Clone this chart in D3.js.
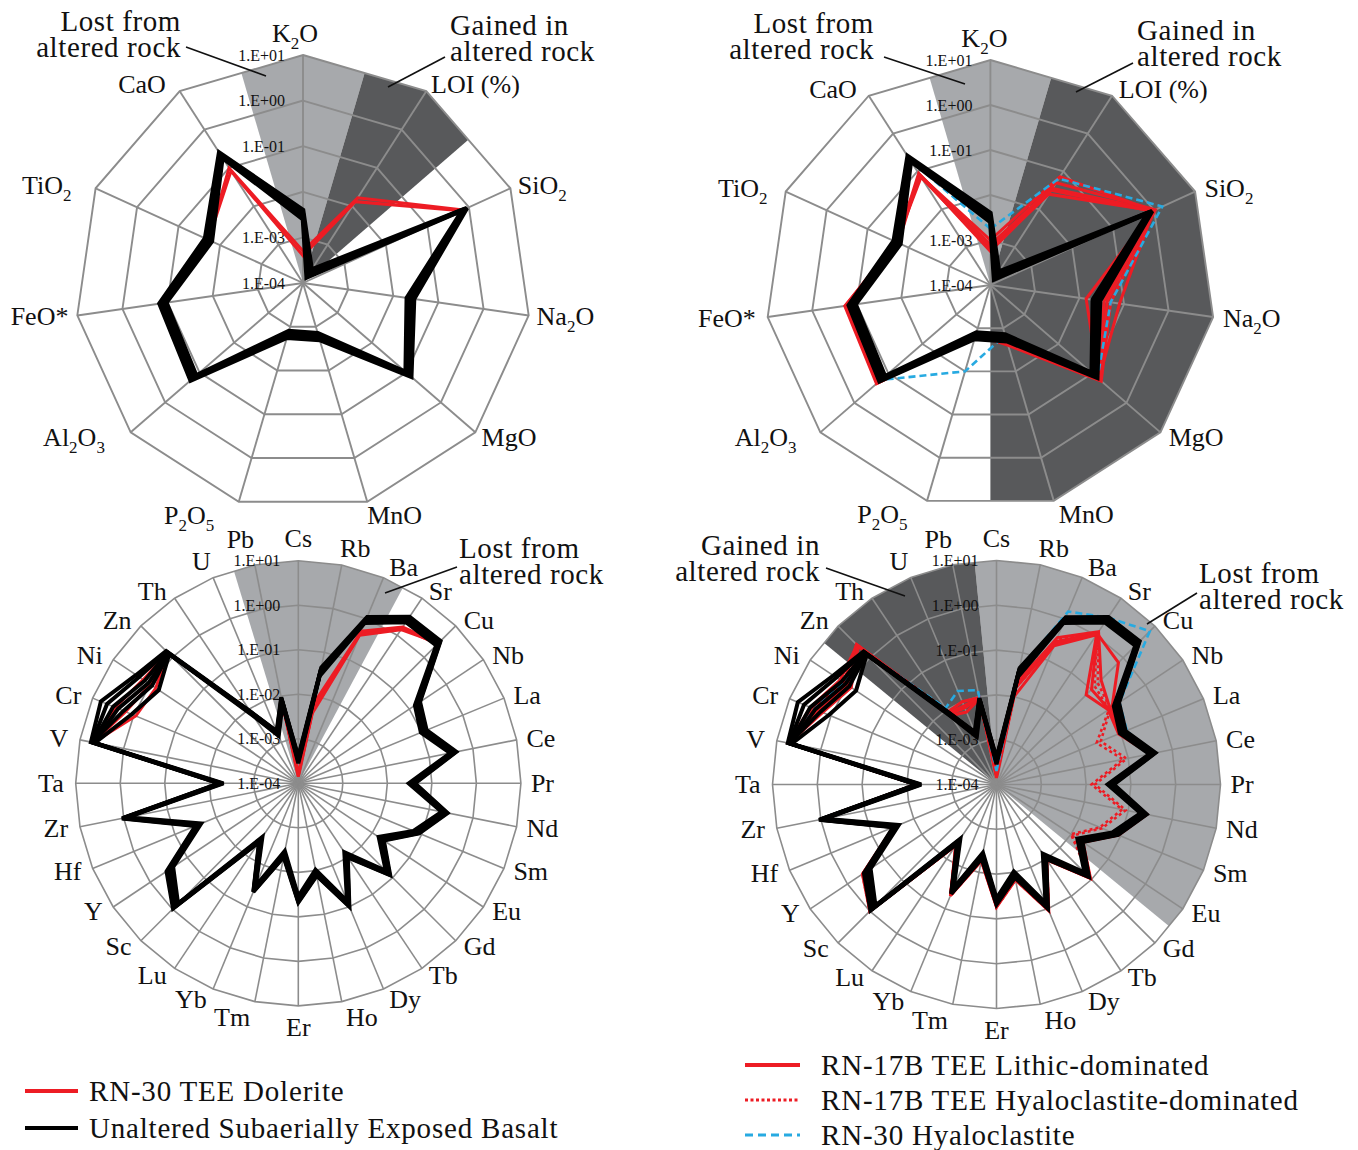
<!DOCTYPE html>
<html>
<head>
<meta charset="utf-8">
<script src="https://d3js.org/d3.v7.min.js"></script>
<style>
  body { margin: 0; background: #fff; }
  svg { display: block; }
  text { font-family: "Liberation Serif", "Times New Roman", serif; fill: #111; }
</style>
</head>
<body>
<div id="chart"></div>
<script>
const width = 1358, height = 1150;

const RED = "#ed1c24", BLUE = "#27aae1", BLACK = "#000",
      GRID = "#8c8c8c", LIGHT = "#a7a9ac", DARK = "#58595b";

// ---- axes / ticks ----
const majorAxes = ["K2O", "LOI (%)", "SiO2", "Na2O", "MgO", "MnO", "P2O5", "Al2O3", "FeO*", "TiO2", "CaO"];
const traceAxes = ["Cs", "Rb", "Ba", "Sr", "Cu", "Nb", "La", "Ce", "Pr", "Nd", "Sm", "Eu", "Gd", "Tb", "Dy",
  "Ho", "Er", "Tm", "Yb", "Lu", "Sc", "Y", "Hf", "Zr", "Ta", "V", "Cr", "Ni", "Zn", "Th", "U", "Pb"];
const tickValues = [1e-4, 1e-3, 1e-2, 1e-1, 1, 10];
const tickLabels = ["1.E-04", "1.E-03", "1.E-02", "1.E-01", "1.E+00", "1.E+01"];

// ---- major elements (order = majorAxes) ----
const basaltMajor1 = [2.51e-3, 1.41e-4, 0.708, 2.0e-2, 9.55e-2, 1.41e-3, 1.26e-3, 0.126, 0.107, 1.58e-2, 0.186];
const basaltMajor2 = [3.16e-3, 1.78e-4, 0.794, 2.4e-2, 0.115, 1.66e-3, 1.48e-3, 0.151, 0.126, 1.91e-2, 0.214];
const basaltMajor3 = [3.98e-3, 2.24e-4, 0.891, 2.88e-2, 0.138, 2.0e-3, 1.78e-3, 0.182, 0.151, 2.29e-2, 0.251];

const doleriteMajor1 = [3.98e-4, 1.32e-2, 0.661, 2.4e-2, 0.115, 1.66e-3, 1.48e-3, 0.151, 0.126, 1.91e-2, 8.32e-2];
const doleriteMajor2 = [5.01e-4, 1.66e-2, 0.724, 2.4e-2, 0.115, 1.66e-3, 1.48e-3, 0.151, 0.126, 1.91e-2, 0.1];

const lithicMajor1 = [6.31e-4, 2.51e-2, 0.933, 1.41e-2, 0.151, 2.0e-3, 1.41e-3, 0.2, 0.166, 2.0e-2, 7.08e-2];
const lithicMajor2 = [7.94e-4, 3.55e-2, 1.0, 3.55e-2, 0.166, 2.24e-3, 1.58e-3, 0.214, 0.178, 2.09e-2, 7.94e-2];
const lithicMajor3 = [7.08e-4, 5.01e-2, 1.07, 5.01e-2, 0.182, 2.51e-3, 1.41e-3, 0.224, 0.186, 1.91e-2, 8.91e-2];
const lithicMajor4 = [1.0e-3, 7.24e-2, 0.955, 7.94e-2, 0.155, 2.0e-3, 1.58e-3, 0.191, 0.158, 2.0e-2, 7.59e-2];
const lithicMajor5 = [5.62e-4, 3.16e-2, 0.891, 4.17e-2, 0.174, 2.4e-3, 1.26e-3, 0.204, 0.174, 1.78e-2, 8.32e-2];

const hyaloMajor = [1.78e-3, 6.46e-2, 1.58, 5.01e-2, 0.141, 1.45e-3, 1.0e-2, 0.166, 0.126, 1.91e-2, 0.2];

// ---- trace elements (order = traceAxes) ----
const basaltTrace1 = [2.82e-4, 2.82e-2, 0.794, 2.24, 2.4, 0.141, 9.55e-2, 0.302, 3.02e-2, 0.191, 6.31e-2, 1.48e-2, 6.03e-2, 7.24e-3, 7.24e-2, 9.55e-3,
  3.47e-2, 3.55e-3, 3.16e-2, 2.82e-3, 0.661, 0.24, 2.29e-2, 0.832, 4.79e-3, 4.57, 1.12, 0.589, 1.26, 6.61e-3, 1.41e-3, 6.61e-3];
const basaltTrace2 = [3.31e-4, 3.55e-2, 0.933, 2.63, 2.82, 0.166, 0.112, 0.355, 3.55e-2, 0.224, 7.41e-2, 1.74e-2, 7.08e-2, 8.51e-3, 8.51e-2, 1.12e-2,
  4.07e-2, 4.17e-3, 3.72e-2, 3.31e-3, 0.794, 0.302, 2.69e-2, 0.955, 5.37e-3, 5.01, 3.16, 1.41, 1.41, 7.59e-3, 1.62e-3, 7.94e-3];
const basaltTrace3 = [3.98e-4, 4.47e-2, 1.1, 3.16, 3.31, 0.195, 0.132, 0.417, 4.17e-2, 0.263, 8.71e-2, 2.04e-2, 8.32e-2, 1.0e-2, 0.1, 1.32e-2,
  4.79e-2, 4.9e-3, 4.37e-2, 3.89e-3, 0.955, 0.363, 3.16e-2, 1.1, 6.03e-3, 5.62, 6.31, 2.4, 1.58, 8.71e-3, 1.86e-3, 9.33e-3];
const basaltTrace4 = [3.55e-4, 3.98e-2, 0.977, 2.88, 3.02, 0.178, 0.12, 0.38, 3.8e-2, 0.24, 7.94e-2, 1.86e-2, 7.59e-2, 9.12e-3, 9.12e-2, 1.2e-2,
  4.37e-2, 4.47e-3, 4.07e-2, 3.55e-3, 0.724, 0.263, 2.88e-2, 1.0, 5.75e-3, 5.25, 1.78, 0.891, 1.32, 8.13e-3, 1.74e-3, 8.51e-3];
const basaltTrace5 = [3.16e-4, 3.31e-2, 0.891, 2.51, 2.69, 0.158, 0.105, 0.331, 3.31e-2, 0.209, 6.92e-2, 1.62e-2, 6.61e-2, 7.94e-3, 7.94e-2, 1.05e-2,
  3.8e-2, 3.89e-3, 3.47e-2, 3.09e-3, 0.741, 0.282, 2.51e-2, 0.912, 5.13e-3, 5.25, 4.47, 2.0, 1.51, 7.24e-3, 1.51e-3, 7.41e-3];
const basaltTrace6 = [3.72e-4, 4.17e-2, 1.02, 2.95, 3.16, 0.186, 0.126, 0.398, 3.98e-2, 0.251, 8.32e-2, 1.95e-2, 7.94e-2, 9.55e-3, 9.55e-2, 1.26e-2,
  4.57e-2, 4.68e-3, 4.27e-2, 3.72e-3, 0.871, 0.331, 3.02e-2, 1.05, 5.89e-3, 4.79, 2.4, 1.12, 1.32, 8.32e-3, 1.78e-3, 8.91e-3];

const doleriteTrace1 = [1.41e-4, 3.98e-3, 0.398, 1.41, 2.82, 0.166, 0.112, 0.355, 3.55e-2, 0.224, 7.41e-2, 1.74e-2, 7.08e-2, 8.51e-3, 8.51e-2, 1.12e-2,
  4.07e-2, 4.17e-3, 3.72e-2, 3.31e-3, 0.794, 0.302, 2.69e-2, 0.955, 5.37e-3, 5.01, 2.82, 1.55, 1.41, 7.59e-3, 1.62e-3, 7.94e-3];
const doleriteTrace2 = [1.51e-4, 5.01e-3, 0.447, 1.58, 2.63, 0.166, 0.112, 0.355, 3.55e-2, 0.224, 7.41e-2, 1.74e-2, 7.08e-2, 8.51e-3, 8.51e-2, 1.12e-2,
  4.07e-2, 4.17e-3, 3.72e-2, 3.31e-3, 0.794, 0.302, 2.69e-2, 0.955, 5.37e-3, 4.9, 0.891, 0.708, 1.41, 7.59e-3, 1.62e-3, 7.94e-3];
const doleriteTrace3 = [1.66e-4, 7.08e-3, 0.501, 1.66, 2.82, 0.166, 0.112, 0.355, 3.55e-2, 0.224, 7.41e-2, 1.74e-2, 7.08e-2, 8.51e-3, 8.51e-2, 1.12e-2,
  4.07e-2, 4.17e-3, 3.72e-2, 3.31e-3, 0.794, 0.302, 2.69e-2, 0.955, 5.37e-3, 5.01, 1.58, 1.0, 1.41, 7.59e-3, 1.62e-3, 7.94e-3];

const lithicTrace1 = [1.41e-4, 1.0e-2, 0.224, 1.05, 6.76e-2, 0.1, 8.91e-2, 0.316, 3.31e-2, 0.251, 8.51e-2, 2.0e-2, 8.91e-2, 1.0e-2, 0.107, 1.41e-2,
  5.25e-2, 5.25e-3, 4.68e-2, 4.17e-3, 0.977, 0.38, 2.95e-2, 1.0, 6.31e-3, 5.5, 2.82, 1.26, 2.63, 8.91e-3, 1.0e-2, 9.55e-3];
const lithicTrace2 = [1.58e-4, 1.58e-2, 0.282, 1.15, 0.1, 0.105, 9.55e-2, 0.331, 3.55e-2, 0.263, 8.91e-2, 2.09e-2, 9.33e-2, 1.05e-2, 0.112, 1.48e-2,
  5.5e-2, 5.5e-3, 4.9e-2, 4.37e-3, 1.0, 0.398, 3.09e-2, 1.05, 6.31e-3, 5.5, 2.0, 1.0, 2.24, 7.94e-3, 7.08e-3, 9.12e-3];
const lithicTrace3 = [1.66e-4, 2.0e-2, 0.355, 1.26, 0.2, 0.112, 0.1, 0.355, 3.55e-2, 0.263, 8.51e-2, 2.0e-2, 8.91e-2, 1.0e-2, 0.107, 1.41e-2,
  5.25e-2, 5.25e-3, 4.68e-2, 4.17e-3, 0.955, 0.38, 2.95e-2, 1.0, 6.03e-3, 5.37, 3.16, 1.58, 2.51, 7.08e-3, 5.62e-3, 8.91e-3];
const lithicTrace4 = [1.78e-4, 2.51e-2, 0.263, 1.12, 0.708, 0.126, 0.105, 0.316, 3.16e-2, 0.24, 7.94e-2, 1.91e-2, 8.51e-2, 9.55e-3, 0.105, 1.35e-2,
  5.01e-2, 5.01e-3, 4.47e-2, 3.98e-3, 0.912, 0.363, 2.82e-2, 0.955, 5.75e-3, 5.25, 1.58, 0.794, 2.4, 8.32e-3, 7.94e-3, 9.33e-3];

const hyaloDomTrace1 = [1.58e-4, 1.58e-2, 0.282, 1.12, 0.126, 0.105, 2.63e-2, 7.59e-2, 1.32e-2, 7.24e-2, 3.16e-2, 1.0e-2, 8.91e-2, 1.05e-2, 0.112, 1.48e-2,
  5.5e-2, 5.5e-3, 4.9e-2, 4.37e-3, 1.0, 0.398, 3.09e-2, 1.05, 6.31e-3, 5.5, 2.0, 1.0, 2.24, 7.94e-3, 7.08e-3, 9.12e-3];
const hyaloDomTrace2 = [1.58e-4, 1.78e-2, 0.316, 1.2, 0.158, 0.115, 3.31e-2, 9.12e-2, 1.58e-2, 8.71e-2, 3.55e-2, 1.12e-2, 9.12e-2, 1.0e-2, 0.107, 1.41e-2,
  5.25e-2, 5.25e-3, 4.68e-2, 4.17e-3, 0.977, 0.38, 2.95e-2, 1.0, 6.31e-3, 5.5, 2.82, 1.26, 2.63, 8.91e-3, 1.0e-2, 9.55e-3];

const hyaloTrace = [2.0e-4, 3.98e-2, 1.51, 3.02, 6.92, 0.2, 0.141, 0.316, 3.55e-2, 0.224, 7.41e-2, 1.74e-2, 7.08e-2, 8.51e-3, 8.51e-2, 1.12e-2,
  4.07e-2, 4.17e-3, 3.72e-2, 3.31e-3, 0.794, 0.302, 2.69e-2, 0.955, 5.37e-3, 5.01, 2.51, 1.26, 1.58, 1.12e-2, 1.82e-2, 1.41e-2];

// small placement tweaks for a few category labels (Excel puts these a bit off the rule)
const nudgeTopLeft = { "K2O": [-6, 0], "FeO*": [5, 0], "TiO2": [-4, 0], "CaO": [-4, 0], "P2O5": [-3, 0], "MnO": [-3, 0] };
const nudgeTopRight = { "K2O": [-6, 0], "CaO": [-4, 0] };
const nudgeBottom = { "Rb": [-6, 0], "U": [4, -6], "Pb": [4, -9] };

// ---- svg ----
const svg = d3.select("#chart").append("svg")
  .attr("width", width)
  .attr("height", height);

svg.append("rect").attr("width", width).attr("height", height).attr("fill", "#fff");

// split "Al2O3" -> [["Al",false],["2",true],["O",false],["3",true]]
function splitSub(s) {
  return (s.match(/\d+|[^\d]+/g) || []).map(p => [p, /^\d+$/.test(p)]);
}

function drawRadar(c) {
  const n = c.axes.length, step = 2 * Math.PI / n;
  const rad = d3.scaleLog().domain([1e-4, 10]).range([0, c.R]).clamp(true);
  const g = svg.append("g").attr("transform", `translate(${c.cx},${c.cy})`);
  const pos = (i, r) => [r * Math.sin(i * step), -r * Math.cos(i * step)];
  const mid = (a, b) => [(a[0] + b[0]) / 2, (a[1] + b[1]) / 2];

  // shaded sectors (lost / gained)
  function sector(names, fill) {
    if (!names || !names.length) return;
    const i0 = c.axes.indexOf(names[0]);
    const i1 = i0 + names.length - 1;
    const pts = [[0, 0], mid(pos(i0 - 1, c.R), pos(i0, c.R))];
    for (let i = i0; i <= i1; i++) pts.push(pos(i, c.R));
    pts.push(mid(pos(i1, c.R), pos(i1 + 1, c.R)));
    g.append("path").attr("d", d3.line()(pts) + "Z").attr("fill", fill);
  }
  sector(c.lost, LIGHT);
  sector(c.gained, DARK);

  // grid rings
  tickValues.slice(1).forEach(t => {
    const ring = d3.lineRadial()
      .angle((d, i) => i * step)
      .radius(rad(t))
      .curve(d3.curveLinearClosed);
    g.append("path")
      .attr("d", ring(c.axes))
      .attr("fill", "none")
      .attr("stroke", GRID)
      .attr("stroke-width", c.gridWidth);
  });

  // spokes
  g.selectAll("line.spoke")
    .data(c.axes)
    .join("line")
    .attr("class", "spoke")
    .attr("x1", 0).attr("y1", 0)
    .attr("x2", (d, i) => pos(i, c.R)[0])
    .attr("y2", (d, i) => pos(i, c.R)[1])
    .attr("stroke", GRID)
    .attr("stroke-width", c.gridWidth);

  // tick labels on the first spoke
  tickValues.forEach((t, k) => {
    if ((c.skipTicks || []).includes(tickLabels[k])) return;
    g.append("text")
      .attr("x", -18)
      .attr("y", -rad(t) + 5.5)
      .attr("text-anchor", "end")
      .style("font-size", "16px")
      .text(tickLabels[k]);
  });

  // category labels
  c.axes.forEach((name, i) => {
    const [vx, vy] = pos(i, c.R);
    const dx = Math.sin(i * step), dy = -Math.cos(i * step);
    const parts = c.subscripts ? splitSub(name) : [[name, false]];
    const nsub = parts.filter(p => p[1]).length;
    const nudge = (c.nudge || {})[name] || [0, 0];
    let x, anchor;
    if (Math.abs(dx) < 0.08) { x = vx; anchor = "middle"; }
    else if (dx > 0) { x = vx + 3 + 7 * dx; anchor = "start"; }
    else { x = vx - 3 + 9 * dx - 7 * nsub; anchor = "end"; }
    const yc = vy + dy * (8 + 14 * Math.max(0, (0.5 - Math.abs(dx)) / 0.5));
    const t = g.append("text")
      .attr("x", x + nudge[0] + (c.labelShift || 0))
      .attr("y", yc + 8.6 + nudge[1])
      .attr("text-anchor", anchor)
      .style("font-size", "26px");
    parts.forEach(([s, sub], k) => {
      const ts = t.append("tspan").text(s);
      if (sub) ts.attr("dy", 7).style("font-size", "17px");
      else if (k > 0 && parts[k - 1][1]) ts.attr("dy", -7);
    });
  });

  // data lines
  const line = d3.lineRadial()
    .angle((d, i) => i * step)
    .radius(d => rad(d))
    .curve(d3.curveLinearClosed);
  c.series.forEach(s => {
    g.append("path")
      .attr("d", line(s.values))
      .attr("fill", "none")
      .attr("stroke", s.color)
      .attr("stroke-width", s.width)
      .attr("stroke-dasharray", s.dash || null)
      .attr("stroke-linejoin", "miter")
      .attr("stroke-miterlimit", 3);
  });
}

const blackTop = v => ({ values: v, color: BLACK, width: 4.6 });
const blackBottom = v => ({ values: v, color: BLACK, width: 4 });
const red = v => ({ values: v, color: RED, width: 3 });
const dotted = v => ({ values: v, color: RED, width: 2.6, dash: "3 3" });
const dashed = v => ({ values: v, color: BLUE, width: 2.6, dash: "7 4" });

drawRadar({
  cx: 303, cy: 283, R: 228, axes: majorAxes, subscripts: true, gridWidth: 1.9,
  labelShift: -2, nudge: nudgeTopLeft, skipTicks: ["1.E-02"],
  lost: ["K2O"], gained: ["LOI (%)"],
  series: [red(doleriteMajor1), red(doleriteMajor2),
           blackTop(basaltMajor1), blackTop(basaltMajor2), blackTop(basaltMajor3)]
});

drawRadar({
  cx: 990.4, cy: 285, R: 225, axes: majorAxes, subscripts: true, gridWidth: 1.9,
  nudge: nudgeTopRight, skipTicks: ["1.E-02"],
  lost: ["K2O"], gained: ["LOI (%)", "SiO2", "Na2O", "MgO", "MnO"],
  series: [red(lithicMajor1), red(lithicMajor2), red(lithicMajor3), red(lithicMajor4), red(lithicMajor5),
           dashed(hyaloMajor),
           blackTop(basaltMajor1), blackTop(basaltMajor2), blackTop(basaltMajor3)]
});

drawRadar({
  cx: 298.3, cy: 783.3, R: 222.6, axes: traceAxes, subscripts: false, gridWidth: 1.6,
  nudge: nudgeBottom,
  lost: ["Pb", "Cs", "Rb", "Ba"], gained: [],
  series: [red(doleriteTrace1), red(doleriteTrace2), red(doleriteTrace3),
           blackBottom(basaltTrace1), blackBottom(basaltTrace2), blackBottom(basaltTrace3),
           blackBottom(basaltTrace4), blackBottom(basaltTrace5), blackBottom(basaltTrace6)]
});

drawRadar({
  cx: 996.5, cy: 784.5, R: 224, axes: traceAxes, subscripts: false, gridWidth: 1.6,
  nudge: nudgeBottom, skipTicks: ["1.E-02"],
  lost: ["Cs", "Rb", "Ba", "Sr", "Cu", "Nb", "La", "Ce", "Pr", "Nd", "Sm", "Eu"],
  gained: ["Zn", "Th", "U", "Pb"],
  series: [dotted(hyaloDomTrace1), dotted(hyaloDomTrace2),
           red(lithicTrace1), red(lithicTrace2), red(lithicTrace3), red(lithicTrace4),
           dashed(hyaloTrace),
           blackBottom(basaltTrace1), blackBottom(basaltTrace2), blackBottom(basaltTrace3),
           blackBottom(basaltTrace4), blackBottom(basaltTrace5), blackBottom(basaltTrace6)]
});

// ---- annotations ----
function note(lines, x, y, anchor, from, to) {
  lines.forEach((s, k) => {
    svg.append("text")
      .attr("x", x).attr("y", y + k * 26)
      .attr("text-anchor", anchor)
      .style("font-size", "29px")
      .style("letter-spacing", "0.6px")
      .text(s);
  });
  svg.append("line")
    .attr("x1", from[0]).attr("y1", from[1])
    .attr("x2", to[0]).attr("y2", to[1])
    .attr("stroke", "#111").attr("stroke-width", 1.6);
}
const LOST = ["Lost from", "altered rock"], GAINED = ["Gained in", "altered rock"];
note(LOST, 181, 31, "end", [186, 47], [266, 76]);
note(GAINED, 450, 35, "start", [445, 57], [388, 87]);
note(LOST, 874, 33, "end", [884, 57], [965, 84]);
note(GAINED, 1137, 40, "start", [1133, 63], [1076, 92]);
note(LOST, 459, 558, "start", [457, 567], [385, 593]);
note(GAINED, 820, 555, "end", [826, 568], [905, 596]);
note(LOST, 1199, 583, "start", [1197, 593], [1147, 624]);

// ---- legends ----
const legendLeft = [
  { label: "RN-30 TEE Dolerite", color: RED, dash: null },
  { label: "Unaltered Subaerially Exposed Basalt", color: BLACK, dash: null }
];
const legendRight = [
  { label: "RN-17B TEE Lithic-dominated", color: RED, dash: null },
  { label: "RN-17B TEE Hyaloclastite-dominated", color: RED, dash: "3 2.5" },
  { label: "RN-30 Hyaloclastite", color: BLUE, dash: "8 5" }
];
function legend(items, x, y0, dy, len, gap) {
  items.forEach((d, k) => {
    const y = y0 + k * dy;
    svg.append("line")
      .attr("x1", x).attr("x2", x + len)
      .attr("y1", y).attr("y2", y)
      .attr("stroke", d.color)
      .attr("stroke-width", d.dash ? 3 : 4)
      .attr("stroke-dasharray", d.dash);
    svg.append("text")
      .attr("x", x + len + gap).attr("y", y + 10)
      .style("font-size", "29px")
      .style("letter-spacing", "0.8px")
      .text(d.label);
  });
}
legend(legendLeft, 25, 1091, 37, 53, 11);
legend(legendRight, 745, 1065, 35, 55, 21);
</script>
</body>
</html>
